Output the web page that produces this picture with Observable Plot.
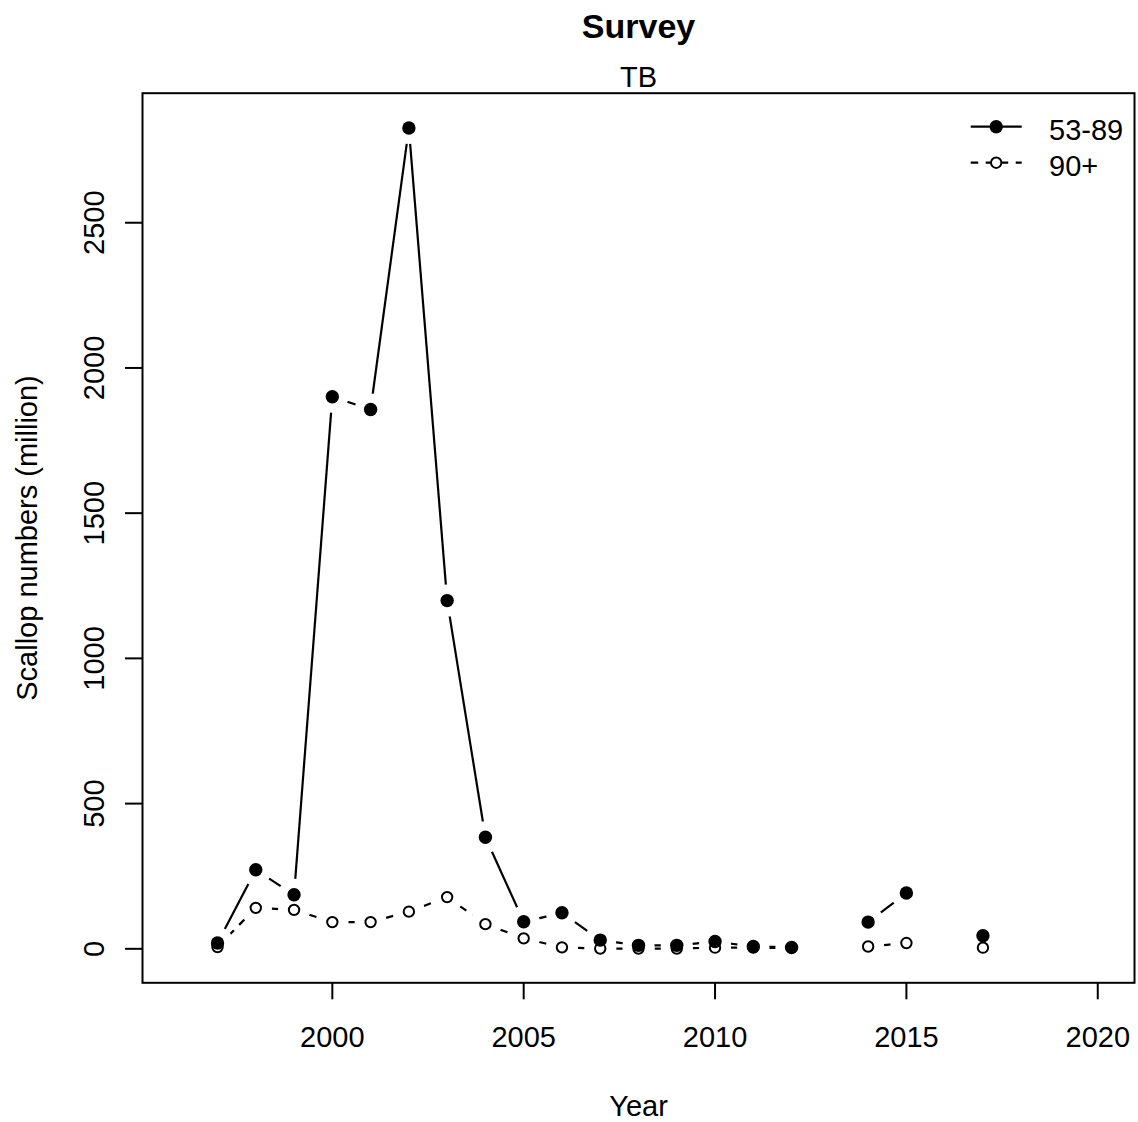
<!DOCTYPE html>
<html><head><meta charset="utf-8">
<script src="https://cdn.jsdelivr.net/npm/d3@7"></script>
<script src="https://cdn.jsdelivr.net/npm/@observablehq/plot@0.6"></script>
<style>html,body{margin:0;padding:0;background:#fff;}</style>
</head><body><div id="chart"></div>
<script>
const years = [1997,1998,1999,2000,2001,2002,2003,2004,2005,2006,2007,2008,2009,2010,2011,2012,2013,2014,2015,2016,2017];
const small = [20,272,186,1901,1857,2826,1199,384,93,124,30,12,12,25,8,5,null,92,192,null,45];
const large = [6,141,134,92,92,128,178,85,36,5,1,1,1,4,4,3,null,8,20,null,4];
const seriesNames = ["53-89","90+"];
const xTicks = [2000,2005,2010,2015,2020];
const yTicks = [0,500,1000,1500,2000,2500];
const titleText = "Survey";
const subtitleText = "TB";
const xLabel = "Year";
const yLabel = "Scallop numbers (million)";

const FONT = "'Liberation Sans', Arial, Helvetica, sans-serif";
const FS = 29;

function points(vals) {
  return years.map((y, i) => ({year: y, v: vals[i]})).filter(d => d.v != null);
}
function pairs(vals) {
  const out = [];
  for (let i = 0; i < years.length - 1; i++) {
    if (vals[i] != null && vals[i + 1] != null) out.push({x1: years[i], y1: vals[i], x2: years[i + 1], y2: vals[i + 1]});
  }
  return out;
}
const p1 = points(small), p2 = points(large);
const allPts = p1.concat(p2);

const plot = Plot.plot({
  width: 1138,
  height: 1122,
  marginLeft: 142,
  marginRight: 4,
  marginTop: 92.7,
  marginBottom: 139.7,
  style: {fontFamily: FONT, fontSize: FS + "px", color: "black", background: "white"},
  x: {domain: [1995.04, 2020.96]},
  y: {domain: [-117, 2946]},
  marks: [
    Plot.link(pairs(small), {x1: "x1", y1: "y1", x2: "x2", y2: "y2", stroke: "black", strokeWidth: 2.2}),
    Plot.link(pairs(large), {x1: "x1", y1: "y1", x2: "x2", y2: "y2", stroke: "black", strokeWidth: 2.2, strokeDasharray: "7.5,7.5", strokeDashoffset: 14}),
    Plot.dot(allPts, {x: "year", y: "v", r: 16, fill: "white", stroke: null}),
    Plot.dot(p1, {x: "year", y: "v", r: 6.7, fill: "black", stroke: null}),
    Plot.dot(p2, {x: "year", y: "v", r: 5.2, fill: "none", stroke: "black", strokeWidth: 2}),
    Plot.axisX({ticks: xTicks, tickSize: 17, tickPadding: 27, tickFormat: d => String(d), fontSize: FS, label: null, strokeWidth: 2}),
    Plot.axisY({ticks: yTicks, tickSize: 17, tickPadding: 22, tickRotate: -90, tickFormat: d => String(d), fontSize: FS, label: null, strokeWidth: 2}),
    Plot.frame({stroke: "black", strokeWidth: 2}),
    Plot.text([titleText], {frameAnchor: "top", dy: -55.4, lineAnchor: "bottom", textAnchor: "middle", fontSize: 34, fontWeight: "bold", fill: "black"}),
    Plot.text([subtitleText], {frameAnchor: "top", dy: -6, lineAnchor: "bottom", textAnchor: "middle", fontSize: FS, fill: "black"}),
    Plot.text([xLabel], {frameAnchor: "bottom", dy: 132.7, lineAnchor: "bottom", textAnchor: "middle", fontSize: FS, fill: "black"}),
    Plot.text([yLabel], {frameAnchor: "left", dx: -114.8, rotate: -90, lineAnchor: "middle", textAnchor: "middle", fontSize: FS, fill: "black"})
  ]
});

// legend (top-right, inside the frame)
const svg = d3.select(plot);
const lg = svg.append("g").attr("font-family", FONT).attr("font-size", FS).attr("text-anchor", "start");
const rows = [
  {name: seriesNames[0], y: 126.7, dash: null, filled: true},
  {name: seriesNames[1], y: 162.7, dash: "7.5,7.5", filled: false}
];
rows.forEach(r => {
  const ln = lg.append("line").attr("x1", 970.7).attr("x2", 1021.7).attr("y1", r.y).attr("y2", r.y)
    .attr("stroke", "black").attr("stroke-width", 2.2);
  if (r.dash) ln.attr("stroke-dasharray", r.dash);
  if (r.filled) {
    lg.append("circle").attr("cx", 996.2).attr("cy", r.y).attr("r", 6.7).attr("fill", "black");
  } else {
    lg.append("circle").attr("cx", 996.2).attr("cy", r.y).attr("r", 5.2).attr("fill", "white").attr("stroke", "black").attr("stroke-width", 2);
  }
  lg.append("text").attr("x", 1049).attr("y", r.y + 13).attr("fill", "black").attr("text-anchor", "start").text(r.name);
});

document.getElementById("chart").appendChild(plot);
</script>
</body></html>
